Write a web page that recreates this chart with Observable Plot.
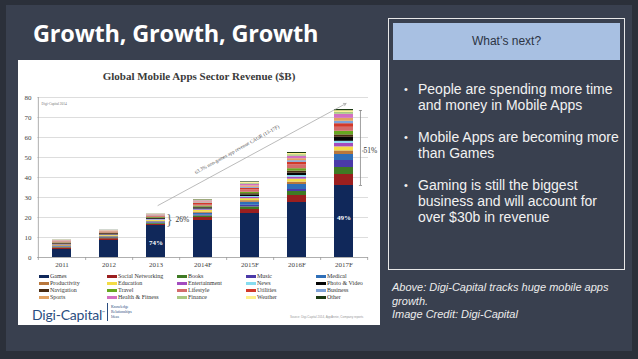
<!DOCTYPE html>
<html>
<head>
<meta charset="utf-8">
<script src="https://cdn.jsdelivr.net/npm/d3@7"></script>
<script src="https://cdn.jsdelivr.net/npm/@observablehq/plot@0.6"></script>
<style>
  html, body { margin: 0; padding: 0; }
  body { width: 638px; height: 359px; background: #2b303a; position: relative; overflow: hidden; font-family: "Liberation Sans", Arial, sans-serif; }
  #slide { position: absolute; left: 6px; top: 5px; width: 626px; height: 346px; background: #39404f; }
  #title { position: absolute; left: 33px; top: 17px; color: #fff; font-family: "Open Sans", sans-serif; font-weight: bold; font-size: 23.5px; letter-spacing: -0.2px; }
  #card { position: absolute; left: 18px; top: 60px; width: 362px; height: 265px; background: #fff; }
  #ctitle { position: absolute; left: 0; width: 362px; top: 10px; text-align: center; font-family: "Liberation Serif", serif; font-weight: bold; font-size: 11px; color: #3a3a3a; }
  #chart { position: absolute; left: 0; top: 0; }
  #legend { position: absolute; left: 21px; top: 213px; width: 340px; display: grid; grid-template-columns: 68px 70px 69px 70px 60px; row-gap: 0px; font-family: "Liberation Serif", serif; font-size: 6px; color: #333; line-height: 7px; }
  #legend .it { display: flex; align-items: center; white-space: nowrap; }
  #legend .sw { display: inline-block; width: 10px; height: 3px; margin-right: 1px; }
  #logo { position: absolute; left: 14px; top: 246px; font-family: "Lato", sans-serif; font-size: 14px; color: #2a4d80; letter-spacing: -0.2px; }
  #logo sup { font-size: 4px; }
  #logobar { position: absolute; left: 89px; top: 243px; width: 1px; height: 18px; background: #2a4d80; }
  #logotxt { position: absolute; left: 93px; top: 245px; font-family: "Liberation Serif", serif; font-size: 3.8px; line-height: 5px; color: #2a4d80; }
  #src { position: absolute; left: 272px; top: 255px; font-family: "Liberation Sans", sans-serif; font-size: 3px; color: #999; }
  #panel { position: absolute; left: 388px; top: 18px; width: 235px; height: 250px; border: 1px solid #e8e8e8; }
  #phead { position: absolute; left: 4px; top: 4px; width: 227px; height: 37px; background: #a8c0e2; color: #2c3444; font-size: 12px; text-align: center; line-height: 37px; }
  #bullets { position: absolute; left: 15px; top: 62px; width: 218px; color: #f2f2f2; font-size: 14px; line-height: 16px; }
  #bullets .b { position: relative; padding-left: 14px; margin-bottom: 16px; }
  #bullets .b:before { content: "•"; position: absolute; left: 0; top: 0; font-size: 11px; }
  #caption { position: absolute; left: 392px; top: 281px; color: #ececec; font-size: 11px; font-style: italic; line-height: 13.5px; width: 240px; }
</style>
</head>
<body>
<div id="slide"></div>
<div id="title">Growth, Growth, Growth</div>
<div id="card">
  <div id="chart"></div>
  <div id="ctitle">Global Mobile Apps Sector Revenue ($B)</div>
  <div id="legend"></div>
  <div id="logo">Digi-Capital<sup>™</sup></div>
  <div id="logobar"></div>
  <div id="logotxt">Knowledge<br>Relationships<br>Ideas</div>
  <div id="src">Source: Digi-Capital 2014, AppAnnie, Company reports</div>
</div>
<div id="panel">
  <div id="phead">What’s next?</div>
  <div id="bullets">
    <div class="b">People are spending more time and money in Mobile Apps</div>
    <div class="b">Mobile Apps are becoming more than Games</div>
    <div class="b">Gaming is still the biggest business and will account for over $30b in revenue</div>
  </div>
</div>
<div id="caption">Above: Digi-Capital tracks huge mobile apps growth.<br>Image Credit: Digi-Capital</div>
<script>
// ---- data ----
const years = ["2011", "2012", "2013", "2014F", "2015F", "2016F", "2017F"];
const categories = ["Games", "Social Networking", "Books", "Music", "Medical",
  "Productivity", "Education", "Entertainment", "News", "Photo & Video",
  "Navigation", "Travel", "Lifestyle", "Utilities", "Business",
  "Sports", "Health & Fitness", "Finance", "Weather", "Other"];
const colors = ["#10285a", "#9b1f1f", "#3f7a24", "#4b3aa8", "#2f6fb8",
  "#b8773c", "#f3dc45", "#a34cbf", "#86dcef", "#050505",
  "#4a2c12", "#67a61f", "#d46b6b", "#d2392a", "#7ea2d8",
  "#e2a262", "#d36fc2", "#a9c882", "#fdf08a", "#1b3a12"];
const games            = [4, 8.5, 16, 18.5, 22, 27.5, 36];
const socialNetworking = [0.8, 0.9, 0.6, 1.5, 2, 3.5, 5.5];
const books            = [0.3, 0.4, 0.5, 0.8, 1.3, 2, 3.5];
const music            = [0.2, 0.2, 0.3, 0.5, 0.8, 1, 3.5];
const medical          = [0.2, 0.3, 0.4, 0.8, 1.5, 2.5, 3];
const productivity     = [0.4, 0.4, 0.3, 0.6, 0.8, 1.2, 1.8];
const education        = [0.2, 0.3, 0.4, 0.8, 1, 1.5, 2];
const entertainment    = [0.2, 0.2, 0.3, 0.4, 0.6, 1, 1.8];
const news             = [0.1, 0.1, 0.2, 0.3, 0.5, 0.8, 1];
const photoVideo       = [0.3, 0.3, 0.4, 0.6, 0.8, 1.2, 2];
const navigation       = [0.4, 0.4, 0.3, 0.4, 0.6, 1, 1.2];
const travel           = [0.2, 0.2, 0.3, 0.5, 0.7, 1.2, 1.8];
const lifestyle        = [0.3, 0.3, 0.4, 0.8, 1.2, 2, 2];
const utilities        = [0.2, 0.2, 0.3, 0.5, 0.8, 1.2, 1.8];
const business         = [0.1, 0.1, 0.2, 0.3, 0.5, 0.8, 1.2];
const sports           = [0.3, 0.3, 0.3, 0.5, 0.7, 1, 1.5];
const healthFitness    = [0.2, 0.2, 0.2, 0.5, 0.8, 1.2, 2];
const finance          = [0.1, 0.1, 0.1, 0.3, 0.5, 0.8, 1];
const weather          = [0.1, 0.1, 0.1, 0.2, 0.4, 0.6, 0.8];
const other            = [0.1, 0.1, 0.1, 0.2, 0.3, 0.5, 0.6];
const yTicks = [0, 10, 20, 30, 40, 50, 60, 70, 80];
const gamesShareLabels = [{year: "2013", text: "74%", y: 7.5}, {year: "2017F", text: "49%", y: 20}];
const nonGamesShare = [{year: "2013", text: "26%", lo: 16, hi: 21.5}, {year: "2017F", text: "51%", lo: 36, hi: 73.5}];
const cagrText = "63.3% non-games app revenue CAGR (13-17F)";

const seriesList = [games, socialNetworking, books, music, medical, productivity,
  education, entertainment, news, photoVideo, navigation, travel, lifestyle,
  utilities, business, sports, healthFitness, finance, weather, other];

const table = [];
years.forEach((yr, i) => {
  categories.forEach((c, j) => table.push({year: yr, cat: c, value: seriesList[j][i]}));
});

// ---- layout ----
const W = 362, H = 215, mL = 19, mR = 12, mT = 37, mB = 18;
const step = (W - mL - mR) / years.length;
const bw = step * 0.4;

const plot = Plot.plot({
  width: W, height: H,
  marginLeft: mL, marginRight: mR, marginTop: mT, marginBottom: mB,
  style: {fontFamily: "Liberation Serif, serif", fontSize: "7px", color: "#444", background: "transparent"},
  x: {domain: years, paddingInner: 0.6, paddingOuter: 0.3, label: null, tickSize: 0, tickPadding: 5},
  y: {domain: [0, 80], ticks: yTicks, label: null, tickSize: 0, tickPadding: 6},
  color: {domain: categories, range: colors},
  marks: [
    Plot.ruleY(yTicks.slice(1), {stroke: "#d4d4d4", strokeWidth: 0.8}),
    Plot.ruleY([0], {stroke: "#9a9a9a", strokeWidth: 0.8}),
    Plot.ruleX([years[0]], {y1: 0, y2: 80, dx: -step / 2, stroke: "#9a9a9a", strokeWidth: 0.8}),
    Plot.ruleX(years, {y1: 0, y2: -1.5, dx: step / 2, stroke: "#9a9a9a", strokeWidth: 0.8}),
    Plot.ruleX([years[0]], {y1: 0, y2: -1.5, dx: -step / 2, stroke: "#9a9a9a", strokeWidth: 0.8}),
    Plot.barY(table, {x: "year", y: "value", fill: "cat"}),
    Plot.text(gamesShareLabels, {x: "year", y: "y", text: "text", fill: "white", fontWeight: "bold", fontSize: 7}),
    // 26% brace
    Plot.text([nonGamesShare[0]], {x: "year", y: d => (d.lo + d.hi) / 2, text: () => "}", dx: bw / 2 + 4, fontSize: 14, fill: "#666", fontWeight: "100"}),
    Plot.text([nonGamesShare[0]], {x: "year", y: d => (d.lo + d.hi) / 2, text: "text", dx: bw / 2 + 10, textAnchor: "start", fontSize: 7.5, fill: "#333"}),
    // 51% bracket
    Plot.ruleX([nonGamesShare[1]], {x: "year", y1: "lo", y2: "hi", dx: bw / 2 + 7, stroke: "#888", strokeWidth: 0.8}),
    Plot.tickY([nonGamesShare[1]], {x: "year", y: "lo", dx: 9, insetLeft: bw - 3, stroke: "#888", strokeWidth: 0.8}),
    Plot.tickY([nonGamesShare[1]], {x: "year", y: "hi", dx: 9, insetLeft: bw - 3, stroke: "#888", strokeWidth: 0.8}),
    Plot.tickY([nonGamesShare[1]], {x: "year", y: d => (d.lo + d.hi) / 2 - 1.5, dx: 12, insetLeft: bw - 3, stroke: "#888", strokeWidth: 0.8}),
    Plot.text([nonGamesShare[1]], {x: "year", y: d => (d.lo + d.hi) / 2 - 1.5, text: "text", dx: bw / 2 + 10, textAnchor: "start", fontSize: 7.5, fill: "#333"}),
    // CAGR arrow
    Plot.arrow([{x1: "2013", y1: 26, x2: "2017F", y2: 77}], {x1: "x1", y1: "y1", x2: "x2", y2: "y2", dx: 2, stroke: "#aaa", strokeWidth: 0.8, headLength: 5}),
    Plot.text([cagrText], {x: () => "2014F", y: () => 54, dx: 34, rotate: -29, fontSize: 5, fill: "#555", text: d => d}),
    Plot.text(["Digi-Capital 2014"], {frameAnchor: "top-left", dx: 4, dy: 5, fontSize: 3.5, fill: "#777"})
  ]
});
document.getElementById("chart").appendChild(plot);

// legend
const leg = document.getElementById("legend");
categories.forEach((c, j) => {
  const it = document.createElement("div");
  it.className = "it";
  it.innerHTML = `<span class="sw" style="background:${colors[j]}"></span>${c}`;
  leg.appendChild(it);
});
</script>
</body>
</html>
